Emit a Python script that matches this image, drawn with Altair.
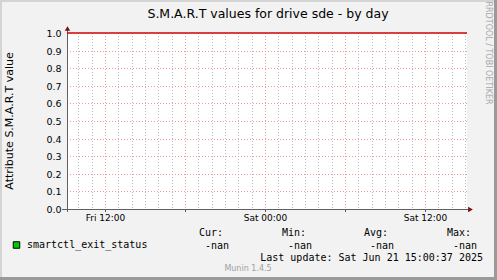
import altair as alt
import pandas as pd

# ---------------- data ----------------
title_text = "S.M.A.R.T values for drive sde - by day"
y_title = "Attribute S.M.A.R.T value"
y_ticks = [0.0, 0.1, 0.2, 0.3, 0.4, 0.5, 0.6, 0.7, 0.8, 0.9, 1.0]
x_start = "2025-06-20T09:09:00"
x_end = "2025-06-21T15:09:00"
label_times = ["2025-06-20T12:00:00", "2025-06-21T00:00:00", "2025-06-21T12:00:00"]
major_times = ["2025-06-20T12:00:00", "2025-06-20T18:00:00", "2025-06-21T00:00:00",
               "2025-06-21T06:00:00", "2025-06-21T12:00:00"]
minor_times = [t.strftime("%Y-%m-%dT%H:%M:%S") for t in
               pd.date_range("2025-06-20T10:00:00", "2025-06-21T15:00:00", freq="h")]
limit_value = [1.0]
series_name = "smartctl_exit_status"
stat_headers = ["Cur:", "Min:", "Avg:", "Max:"]
stat_values = ["-nan", "-nan", "-nan", "-nan"]
last_update = "Last update: Sat Jun 21 15:00:37 2025"
munin_ver = "Munin 1.4.5"
watermark = "RRDTOOL / TOBI OETIKER"

W, H = 400, 176
FONT = "DejaVu Sans"
MONO = "DejaVu Sans Mono"

def pdt(s):
    t = pd.Timestamp(s)
    return alt.DateTime(year=t.year, month=t.month, date=t.day, hours=t.hour, minutes=t.minute)

xscale = alt.Scale(domain=[pdt(x_start), pdt(x_end)], round=True)
yscale = alt.Scale(domain=[0, 1], round=True)
xaxis = alt.Axis(values=[pdt(t) for t in label_times], format="%a %H:%M",
                 domain=False, ticks=False, grid=False, title=None,
                 labelFont=FONT, labelFontSize=9, labelColor="#000000",
                 labelPadding=4, labelOverlap=False, labelFlush=False)
yaxis = alt.Axis(values=y_ticks, format=".1f", domain=False, ticks=False, grid=False,
                 title=None, labelFont=FONT, labelFontSize=9.5, labelColor="#000000",
                 labelPadding=6)
one = pd.DataFrame({"_": [0]})

minor_df = pd.DataFrame({"t": [t for t in minor_times if t not in major_times]})
major_df = pd.DataFrame({"t": major_times})
hgrid_df = pd.DataFrame({"v": y_ticks[1:-1]})
limit_df = pd.DataFrame({"v": limit_value})

X = alt.X("t:T", scale=xscale, axis=xaxis)
Y = alt.Y("v:Q", scale=yscale, axis=yaxis)

layers = []

# minor vertical grid
layers.append(alt.Chart(minor_df).mark_rule(color="#BBBBBB", strokeDash=[1, 2], strokeWidth=1,
                                            xOffset=0.5).encode(
    x=X, y=alt.value(0), y2=alt.value(H)))
# major vertical grid
layers.append(alt.Chart(major_df).mark_rule(color="#F09A9A", strokeDash=[1, 2], strokeWidth=1,
                                            xOffset=0.5).encode(
    x=X, y=alt.value(0), y2=alt.value(H)))
# horizontal grid
layers.append(alt.Chart(hgrid_df).mark_rule(color="#F09A9A", strokeDash=[1, 2], strokeWidth=1,
                                            yOffset=0.5).encode(
    y=Y, x=alt.value(0), x2=alt.value(W + 2)))

# x ticks at major positions
layers.append(alt.Chart(major_df).mark_rule(color="#555555", strokeWidth=1, xOffset=0.5).encode(
    x=X, y=alt.value(H), y2=alt.value(H + 3)))

# axis lines
layers.append(alt.Chart(one).mark_rule(color="#606060", strokeWidth=1).encode(
    x=alt.value(0.5), y=alt.value(-3), y2=alt.value(H + 3)))
layers.append(alt.Chart(one).mark_rule(color="#606060", strokeWidth=1).encode(
    x=alt.value(-5), x2=alt.value(W + 2), y=alt.value(H + 0.5)))
layers.append(alt.Chart(one).mark_point(shape="triangle-up", filled=True, size=30,
                                        color="#7F1010", opacity=1).encode(
    x=alt.value(0.5), y=alt.value(-4.5)))
layers.append(alt.Chart(one).mark_point(shape="triangle-right", filled=True, size=30,
                                        color="#7F1010", opacity=1).encode(
    x=alt.value(W + 3.5), y=alt.value(H + 0.5)))

# red limit line at 1.0
layers.append(alt.Chart(limit_df).mark_rule(color="#D00000", strokeWidth=1.5).encode(
    y=Y, x=alt.value(0), x2=alt.value(W)))

def txt(text, x, y, font=FONT, size=10, color="#000000", align="left", angle=0):
    kw = dict(text=text, font=font, fontSize=size, color=color, align=align, baseline="middle")
    if angle:
        kw["angle"] = angle
    return alt.Chart(one).mark_text(**kw).encode(x=alt.value(x), y=alt.value(y))

# titles
layers.append(txt(title_text, 201, -19, size=12.5, align="center"))
layers.append(txt(y_title, -57, 88, size=11, align="center", angle=270))
layers.append(txt(watermark, 421, 20, size=8, color="#A8A8A8", align="center", angle=90))

# legend
layers.append(alt.Chart(one).mark_square(size=42, color="#00CC00", stroke="#000000",
                                         strokeWidth=1, opacity=1).encode(
    x=alt.value(-50.5), y=alt.value(212)))
layers.append(txt(series_name, -40, 212, font=MONO, size=10))
for h, hx in zip(stat_headers, [132, 215, 297, 380]):
    layers.append(txt(h, hx, 200, font=MONO, size=10))
for v, vx in zip(stat_values, [162, 245, 327, 410]):
    layers.append(txt(v, vx, 213, font=MONO, size=10, align="right"))
layers.append(txt(last_update, 416, 225, font=MONO, size=10, align="right"))
layers.append(txt(munin_ver, 181, 236, size=8, color="#A0A0A0", align="center"))

# frame borders
layers.append(alt.Chart(one).mark_rule(color="#D4D4D4", strokeWidth=2).encode(
    x=alt.value(-66), y=alt.value(-33), y2=alt.value(247)))
layers.append(alt.Chart(one).mark_rule(color="#D4D4D4", strokeWidth=2).encode(
    x=alt.value(-67), x2=alt.value(430), y=alt.value(-32)))
layers.append(alt.Chart(one).mark_rule(color="#9A9A9A", strokeWidth=3).encode(
    x=alt.value(428.5), y=alt.value(-33), y2=alt.value(247)))
layers.append(alt.Chart(one).mark_rule(color="#9A9A9A", strokeWidth=3).encode(
    x=alt.value(-67), x2=alt.value(430), y=alt.value(245.5)))

chart = alt.layer(*layers).properties(
    width=W, height=H,
    autosize=alt.AutoSizeParams(type="none"),
    padding={"left": 67, "top": 33, "right": 30, "bottom": 71},
    background="#F2F2F2",
).configure_view(fill="#FFFFFF", stroke=None)

chart.save("out.html", embed_options={"renderer": "svg", "actions": False})
